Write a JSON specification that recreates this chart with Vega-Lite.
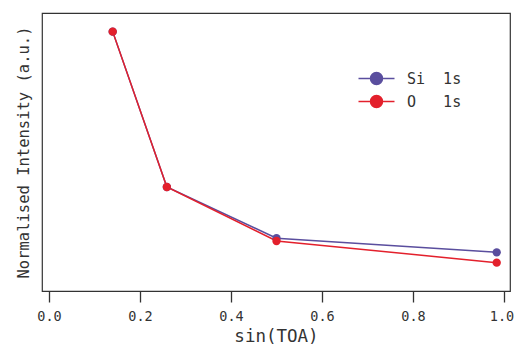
{
  "$schema": "https://vega.github.io/schema/vega-lite/v6.json",
  "width": 468,
  "height": 278,
  "autosize": {"type": "none"},
  "padding": {"left": 42, "top": 13, "right": 5, "bottom": 56},
  "background": "white",
  "config": {
    "view": {"stroke": "#333333", "strokeWidth": 1.2},
    "font": "DejaVu Sans Mono"
  },
  "data": {
    "values": [
      {"sinTOA": 0.14, "intensity": 0.933, "peak": "Si 1s"},
      {"sinTOA": 0.259, "intensity": 0.374, "peak": "Si 1s"},
      {"sinTOA": 0.5, "intensity": 0.19, "peak": "Si 1s"},
      {"sinTOA": 0.984, "intensity": 0.139, "peak": "Si 1s"},
      {"sinTOA": 0.14, "intensity": 0.933, "peak": "O 1s"},
      {"sinTOA": 0.259, "intensity": 0.374, "peak": "O 1s"},
      {"sinTOA": 0.5, "intensity": 0.18, "peak": "O 1s"},
      {"sinTOA": 0.984, "intensity": 0.102, "peak": "O 1s"}
    ]
  },
  "mark": {"type": "line", "strokeWidth": 1.5, "point": {"filled": true, "size": 70, "opacity": 1}},
  "encoding": {
    "x": {
      "field": "sinTOA",
      "type": "quantitative",
      "scale": {"domain": [-0.0154, 1.0132], "nice": false, "zero": false},
      "axis": {
        "values": [0, 0.2, 0.4, 0.6, 0.8, 1.0],
        "format": ".1f",
        "grid": false,
        "domain": false,
        "tickSize": 11,
        "tickColor": "#333333",
        "tickWidth": 1.3,
        "labelFontSize": 13.5,
        "labelColor": "#333333",
        "labelPadding": 7,
        "labelFlush": false,
        "labelOffset": {"condition": {"test": "datum.value == 1", "value": -2.5}, "value": 0},
        "title": "sin(TOA)",
        "titleFontSize": 17.5,
        "titleFontWeight": "normal",
        "titleColor": "#333333",
        "titlePadding": 5
      }
    },
    "y": {
      "field": "intensity",
      "type": "quantitative",
      "scale": {"domain": [0, 1], "nice": false},
      "axis": {
        "labels": false,
        "ticks": false,
        "domain": false,
        "grid": false,
        "title": "Normalised Intensity (a.u.)",
        "titleFontSize": 15.5,
        "titleFontWeight": "normal",
        "titleColor": "#333333",
        "titlePadding": 11
      }
    },
    "color": {
      "field": "peak",
      "type": "nominal",
      "sort": ["Si 1s", "O 1s"],
      "scale": {"domain": ["Si 1s", "O 1s"], "range": ["#5a4e9e", "#e3202c"]},
      "legend": {
        "orient": "none",
        "legendX": 327,
        "legendY": 58,
        "title": null,
        "padding": 0,
        "symbolType": "M-3,0H3M-1,0A1,1 0 1,0 1,0A1,1 0 1,0 -1,0Z",
        "symbolSize": 144,
        "symbolStrokeWidth": 1.5,
        "labelFontSize": 15,
        "labelColor": "#333333",
        "labelOffset": 23,
        "rowPadding": 4,
        "labelExpr": "datum.label == 'Si 1s' ? 'Si\u00a0\u00a01s' : 'O\u00a0\u00a0\u00a01s'",
        "encode": {
          "symbols": {
            "update": {
              "fill": {"scale": "color", "field": "value"},
              "stroke": {"scale": "color", "field": "value"},
              "opacity": {"value": 1}
            }
          }
        }
      }
    }
  }
}
